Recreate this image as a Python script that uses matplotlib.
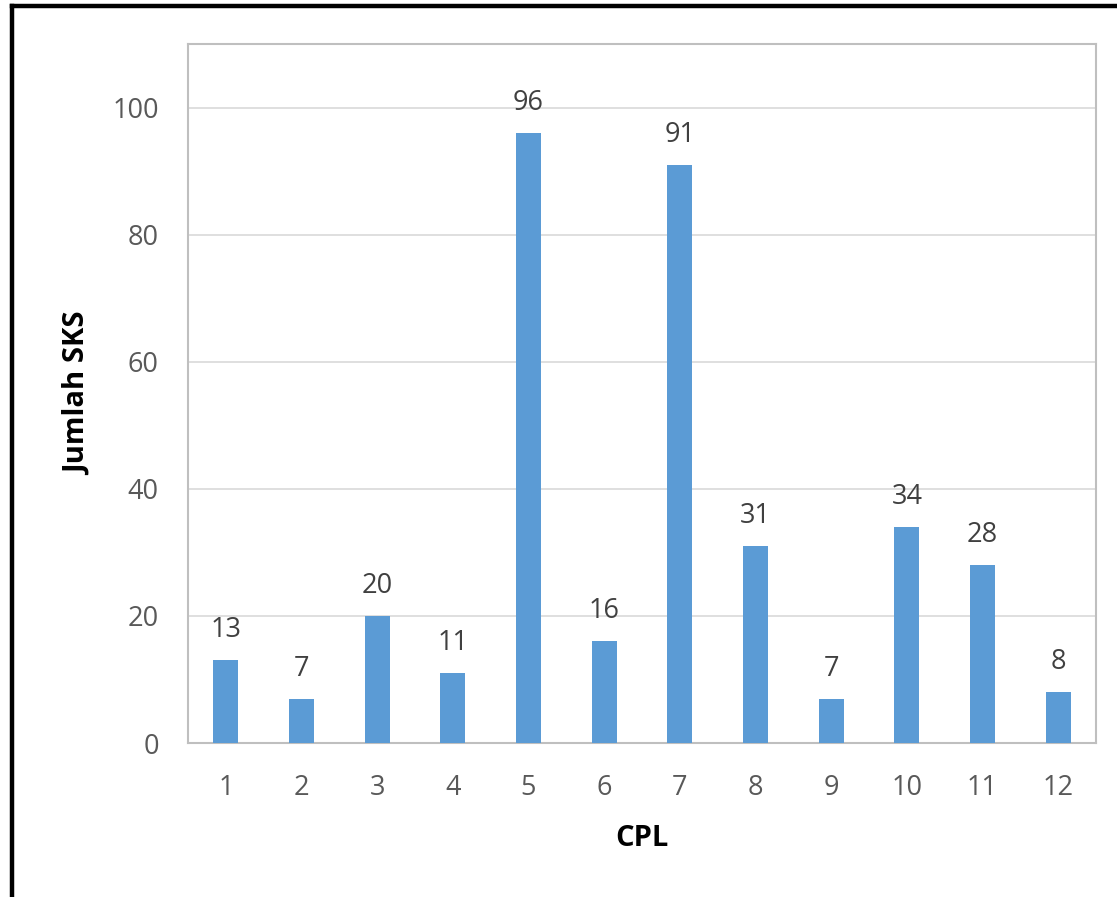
import matplotlib
matplotlib.use("Agg")
import matplotlib.pyplot as plt
from matplotlib.lines import Line2D

categories = ["1", "2", "3", "4", "5", "6", "7", "8", "9", "10", "11", "12"]
values = [13, 7, 20, 11, 96, 16, 91, 31, 7, 34, 28, 8]
yticks = [0, 20, 40, 60, 80, 100]

plt.rcParams['font.family'] = ['Open Sans', 'DejaVu Sans']

W, H = 1117, 897
fig = plt.figure(figsize=(W / 100, H / 100), dpi=100)
ax = fig.add_axes([188 / W, 1 - 743 / H, (1096 - 188) / W, (743 - 44) / H])

x = list(range(len(categories)))
bars = ax.bar(x, values, width=0.33, color="#5B9BD5", zorder=3)
for xi, v in zip(x, values):
    ax.annotate(str(v), (xi, v), xytext=(0, 16.5), textcoords="offset points",
                ha="center", va="baseline", fontsize=19.5, color="#404040")

ax.set_xlim(-0.5, len(categories) - 0.5)
ax.set_ylim(0, 110)
ax.set_yticks(yticks)
ax.set_xticks(x)
ax.set_xticklabels(categories)
ax.tick_params(axis="both", length=0, labelsize=19.5, labelcolor="#595959")
ax.tick_params(axis="x", pad=22)
ax.tick_params(axis="y", pad=21)
ax.grid(axis="y", color="#D9D9D9", linewidth=1.2, zorder=0)
for s in ax.spines.values():
    s.set_color("#BFBFBF")
    s.set_linewidth(1.5)

ax.set_ylabel("Jumlah SKS", fontsize=21, fontweight="bold", color="black", va="center")
ax.yaxis.set_label_coords(78 / W, 1 - 393.5 / H, transform=fig.transFigure)
ax.set_xlabel("CPL", fontsize=21, fontweight="bold", color="black", va="center")
ax.xaxis.set_label_coords(642 / W, 1 - 838 / H, transform=fig.transFigure)

# outer black frame (left and top)
fig.add_artist(Line2D([12 / W, 12 / W], [0, 1 - 6 / H], transform=fig.transFigure,
                      color="black", linewidth=3.2))
fig.add_artist(Line2D([12 / W, 1], [1 - 6 / H, 1 - 6 / H], transform=fig.transFigure,
                      color="black", linewidth=3.2))

fig.savefig("out.png", dpi=100)
